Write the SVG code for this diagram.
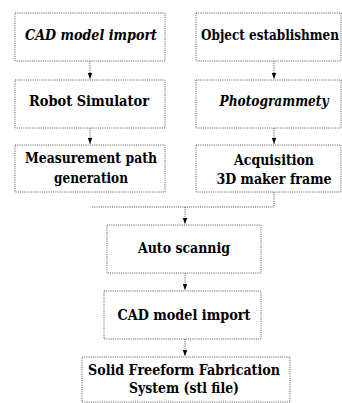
<svg xmlns="http://www.w3.org/2000/svg" width="342" height="403" viewBox="0 0 342 403">
<style>
.box{fill:#fff;stroke:#555;stroke-width:1;stroke-dasharray:1 1.2}
.t{font-family:'DejaVu Serif','Liberation Serif',serif;font-weight:bold;font-size:14px;fill:#000;text-anchor:middle}
.i{font-style:italic}
.c{fill:none;stroke:#444;stroke-width:1;stroke-dasharray:1 1.2}
</style>
<defs>
<marker id="dn" markerWidth="6" markerHeight="6" refX="3" refY="6" markerUnits="userSpaceOnUse" viewBox="0 0 6 6">
<path d="M0.8,0 L5.2,0 L3,6 Z" fill="#000"/>
</marker>
</defs>
<rect width="342" height="403" fill="#fff"/>
<g id="connectors">
<line class="c" x1="90" y1="61" x2="90" y2="79" marker-end="url(#dn)"/>
<line class="c" x1="90" y1="128" x2="90" y2="144" marker-end="url(#dn)"/>
<line class="c" x1="274" y1="61" x2="274" y2="79" marker-end="url(#dn)"/>
<line class="c" x1="274" y1="128" x2="274" y2="144" marker-end="url(#dn)"/>
<polyline class="c" points="274,192 274,207 92,207"/>
<line class="c" x1="185" y1="207" x2="185" y2="224" marker-end="url(#dn)"/>
<line class="c" x1="185" y1="273" x2="185" y2="290" marker-end="url(#dn)"/>
<line class="c" x1="185" y1="339" x2="185" y2="356" marker-end="url(#dn)"/>
</g>
<g id="cad1">
<rect class="box" x="15" y="13" width="150" height="48"/>
<text class="t i" x="91" y="40" textLength="132" lengthAdjust="spacingAndGlyphs">CAD model import</text>
</g>
<g id="robot">
<rect class="box" x="15" y="80" width="150" height="48"/>
<text class="t" x="89" y="106" textLength="120" lengthAdjust="spacingAndGlyphs">Robot Simulator</text>
</g>
<g id="path">
<rect class="box" x="15" y="145" width="150" height="47"/>
<text class="t" x="91" y="162.5" textLength="132" lengthAdjust="spacingAndGlyphs">Measurement path</text>
<text class="t" x="91" y="183" textLength="74" lengthAdjust="spacingAndGlyphs">generation</text>
</g>
<g id="object">
<rect class="box" x="196" y="13" width="145" height="48"/>
<text class="t" x="201" y="40" style="text-anchor:start" textLength="138" lengthAdjust="spacingAndGlyphs">Object establishmen</text>
</g>
<g id="photo">
<rect class="box" x="196" y="80" width="145" height="48"/>
<text class="t i" x="274" y="106" textLength="109" lengthAdjust="spacingAndGlyphs">Photogrammety</text>
</g>
<g id="acq">
<rect class="box" x="196" y="145" width="145" height="47"/>
<text class="t" x="274" y="165" textLength="80" lengthAdjust="spacingAndGlyphs">Acquisition</text>
<text class="t" x="274" y="184" textLength="115" lengthAdjust="spacingAndGlyphs">3D maker frame</text>
</g>
<g id="auto">
<rect class="box" x="107" y="225" width="154" height="48"/>
<text class="t" x="184" y="253" textLength="92" lengthAdjust="spacingAndGlyphs">Auto scannig</text>
</g>
<g id="cad2">
<rect class="box" x="104" y="291" width="157" height="48"/>
<text class="t" x="184" y="320" textLength="133" lengthAdjust="spacingAndGlyphs">CAD model import</text>
</g>
<g id="sff">
<rect class="box" x="82" y="357" width="208" height="45"/>
<text class="t" x="184" y="375" textLength="192" lengthAdjust="spacingAndGlyphs">Solid Freeform Fabrication</text>
<text class="t" x="184" y="393" textLength="110" lengthAdjust="spacingAndGlyphs">System (stl file)</text>
</g>
</svg>
